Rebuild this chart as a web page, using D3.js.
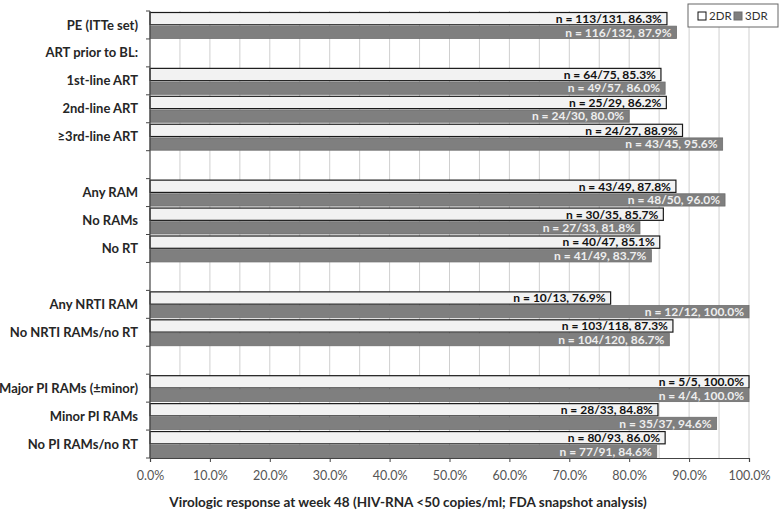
<!DOCTYPE html>
<html>
<head>
<meta charset="utf-8">
<script src="https://cdn.jsdelivr.net/npm/d3@7"></script>
<style>
  body { margin: 0; background: #fff; }
  svg { display: block; font-family: Lato, "Open Sans", sans-serif; }
</style>
</head>
<body>
<div id="chart"></div>
<script>
// ---- Data ----
const categories = [
    "PE (ITTe set)", "ART prior to BL:", "1st-line ART", "2nd-line ART", "≥3rd-line ART", "",
    "Any RAM", "No RAMs", "No RT", "",
    "Any NRTI RAM", "No NRTI RAMs/no RT", "",
    "Major PI RAMs (±minor)", "Minor PI RAMs", "No PI RAMs/no RT"
];
const series = ["2DR", "3DR"];
const values2DR = [86.3, null, 85.3, 86.2, 88.9, null, 87.8, 85.7, 85.1, null, 76.9, 87.3, null, 100.0, 84.8, 86.0];
const values3DR = [87.9, null, 86.0, 80.0, 95.6, null, 96.0, 81.8, 83.7, null, 100.0, 86.7, null, 100.0, 94.6, 84.6];
const counts2DR = ["113/131", null, "64/75", "25/29", "24/27", null, "43/49", "30/35", "40/47", null, "10/13", "103/118", null, "5/5", "28/33", "80/93"];
const counts3DR = ["116/132", null, "49/57", "24/30", "43/45", null, "48/50", "27/33", "41/49", null, "12/12", "104/120", null, "4/4", "35/37", "77/91"];
const xTicks = [0, 10, 20, 30, 40, 50, 60, 70, 80, 90, 100];
const xTitle = "Virologic response at week 48 (HIV-RNA <50 copies/ml; FDA snapshot analysis)";

const W = 784, H = 511;
const margin = { top: 11, right: 35, bottom: 53, left: 150 };
const innerW = W - margin.left - margin.right;
const innerH = H - margin.top - margin.bottom;

const svg = d3.select("#chart").append("svg")
    .attr("width", W)
    .attr("height", H);

const g = svg.append("g")
    .attr("transform", `translate(${margin.left}, ${margin.top})`);

// ---- Scales ----
const x = d3.scaleLinear().domain([0, 100]).range([0, innerW]);
const y = d3.scaleBand().domain(d3.range(categories.length)).range([0, innerH]).padding(0);
const ySub = d3.scaleBand().domain(series).range([1.5, y.bandwidth() - 0.5]).paddingInner(0.1);

// ---- Gridlines every 5% ----
g.append("g")
    .selectAll("line")
    .data(d3.range(5, 101, 5))
    .join("line")
    .attr("x1", d => x(d)).attr("x2", d => x(d))
    .attr("y1", 0).attr("y2", innerH)
    .attr("stroke", "#cfcfcf")
    .attr("stroke-width", 1);

// ---- Bars ----
const rows = categories.map((c, i) => ({
    i,
    bars: [
        { s: "2DR", v: values2DR[i], n: counts2DR[i] },
        { s: "3DR", v: values3DR[i], n: counts3DR[i] }
    ].filter(b => b.v != null)
}));

const row = g.selectAll(".row")
    .data(rows)
    .join("g")
    .attr("transform", d => `translate(0, ${y(d.i)})`);

row.selectAll("rect")
    .data(d => d.bars)
    .join("rect")
    .attr("x", x(0))
    .attr("y", d => ySub(d.s))
    .attr("width", d => x(d.v) - x(0))
    .attr("height", ySub.bandwidth())
    .attr("fill", d => d.s === "2DR" ? "#f2f2f2" : "#7f7f7f")
    .attr("stroke", d => d.s === "2DR" ? "#1a1a1a" : "#6e6e6e")
    .attr("stroke-width", d => d.s === "2DR" ? 1.2 : 0.8);

row.selectAll("text")
    .data(d => d.bars)
    .join("text")
    .attr("x", d => x(d.v) - 5)
    .attr("y", d => ySub(d.s) + ySub.bandwidth() / 2)
    .attr("dy", "0.36em")
    .attr("text-anchor", "end")
    .style("font-size", "12px")
    .style("font-weight", "bold")
    .style("fill", d => d.s === "2DR" ? "#111" : "#eeeeee")
    .text(d => `n = ${d.n}, ${d.v.toFixed(1)}%`);

// ---- Y axis (line + boundary ticks + labels) ----
g.append("line")
    .attr("x1", 0).attr("x2", 0)
    .attr("y1", 0).attr("y2", innerH)
    .attr("stroke", "#444")
    .attr("stroke-width", 1.2);

g.append("g")
    .selectAll("line")
    .data(d3.range(categories.length + 1))
    .join("line")
    .attr("x1", -4).attr("x2", 0)
    .attr("y1", d => d < categories.length ? y(d) : innerH)
    .attr("y2", d => d < categories.length ? y(d) : innerH)
    .attr("stroke", "#444");

g.append("g")
    .selectAll("text")
    .data(categories)
    .join("text")
    .attr("x", -12)
    .attr("y", (d, i) => y(i) + y.bandwidth() / 2)
    .attr("dy", "0.35em")
    .attr("text-anchor", "end")
    .style("font-size", "13px")
    .style("font-weight", "bold")
    .style("fill", "#262626")
    .text(d => d);

// ---- X axis ----
const xAxis = g.append("g")
    .attr("transform", `translate(0, ${innerH})`)
    .call(d3.axisBottom(x).tickValues(xTicks).tickSize(4).tickFormat(d => d.toFixed(1) + "%"));
xAxis.select(".domain").attr("stroke", "#444").attr("stroke-width", 1.2);
xAxis.selectAll(".tick line").attr("stroke", "#444");
xAxis.selectAll(".tick text")
    .attr("y", 13)
    .style("font-family", "Lato, sans-serif")
    .style("font-size", "12.5px")
    .style("fill", "#555");

svg.append("text")
    .attr("x", 408)
    .attr("y", 502)
    .attr("dy", "0.35em")
    .attr("text-anchor", "middle")
    .style("font-size", "13.5px")
    .style("font-weight", "bold")
    .style("fill", "#262626")
    .text(xTitle);

// ---- Legend ----
const legend = svg.append("g").attr("transform", "translate(688, 4)");
legend.append("rect")
    .attr("width", 90).attr("height", 23)
    .attr("fill", "#fff")
    .attr("stroke", "#666");
const legendItem = legend.selectAll(".item")
    .data(series)
    .join("g")
    .attr("transform", (d, i) => `translate(${10 + i * 36}, 0)`);
legendItem.append("rect")
    .attr("y", 8).attr("width", 8).attr("height", 8)
    .attr("fill", d => d === "2DR" ? "#fff" : "#7f7f7f")
    .attr("stroke", d => d === "2DR" ? "#111" : "#6e6e6e");
legendItem.append("text")
    .attr("x", 11).attr("y", 12)
    .attr("dy", "0.35em")
    .style("font-size", "11.5px")
    .style("fill", "#333")
    .text(d => d);
</script>
</body>
</html>
